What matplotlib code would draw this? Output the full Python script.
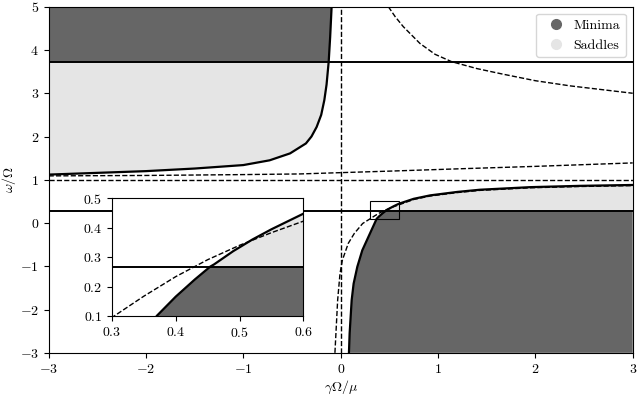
import matplotlib
matplotlib.use('Agg')
import matplotlib.pyplot as plt
import matplotlib.patches as mpatches
from matplotlib.lines import Line2D
import numpy as np

plt.rcParams['font.family'] = 'serif'
plt.rcParams['font.serif'] = ['cmr10']
plt.rcParams['mathtext.fontset'] = 'cm'
plt.rcParams['axes.formatter.use_mathtext'] = True
plt.rcParams['font.size'] = 10

# values
w_hi = 3.732   # 2 + sqrt(3)
w_lo = 0.268   # 2 - sqrt(3)

# left solid boundary (x, omega)
left_x = [-3.0, -2.5, -2.0, -1.5, -1.0, -0.73, -0.52, -0.357, -0.30, -0.247, -0.20, -0.168, -0.145, -0.123, -0.108, -0.093]
left_y = [1.12, 1.16, 1.20, 1.26, 1.34, 1.45, 1.61, 1.84, 2.00, 2.22, 2.50, 2.84, 3.20, 3.732, 4.30, 5.0]

# right solid boundary (x, omega)
right_x = [0.085, 0.092, 0.113, 0.133, 0.171, 0.222, 0.301, 0.37, 0.40, 0.43, 0.454, 0.46, 0.49, 0.52, 0.55, 0.60,
           0.75, 0.92, 1.2, 1.43, 1.95, 2.46, 3.0]
right_y = [-3.0, -2.55, -1.78, -1.40, -1.01, -0.63, -0.24, 0.10, 0.166, 0.2245, 0.268, 0.2755, 0.3205, 0.360, 0.395, 0.448,
           0.56, 0.64, 0.72, 0.77, 0.83, 0.86, 0.88]

# dashed curves
dlow_x = [-0.059, -0.031, -0.007, 0.017, 0.078, 0.14, 0.226, 0.30, 0.35, 0.40, 0.45, 0.50, 0.55, 0.60,
          0.75, 0.92, 1.2, 1.43, 1.95, 2.46, 3.0]
dlow_y = [-3.0, -1.78, -1.17, -0.86, -0.47, -0.24, -0.01, 0.095, 0.1675, 0.234, 0.2915, 0.3405, 0.3835, 0.4225,
          0.545, 0.625, 0.705, 0.755, 0.815, 0.845, 0.865]

dtop_x = [0.49, 0.56, 0.643, 0.815, 0.97, 1.14, 1.4, 1.67, 2.0, 2.36, 3.0]
dtop_y = [5.0, 4.77, 4.54, 4.15, 3.90, 3.73, 3.57, 3.44, 3.29, 3.17, 3.0]

dmid_x = [-3.0, -2.0, -1.0, -0.42, 0.0, 0.5, 1.3, 2.0, 3.0]
dmid_y = [1.09, 1.10, 1.12, 1.135, 1.165, 1.20, 1.26, 1.31, 1.39]

dark = '#666666'
light = '#e5e5e5'


def draw(ax):
    lx, ly = np.array(left_x), np.array(left_y)
    rx, ry = np.array(right_x), np.array(right_y)

    # left side regions
    m = ly <= w_hi
    ax.fill(np.r_[-3, lx[m]], np.r_[w_hi, ly[m]], color=light, lw=0, zorder=1)
    m = ly >= w_hi
    ax.fill(np.r_[-3, -3, lx[m]], np.r_[5, w_hi, ly[m]], color=dark, lw=0, zorder=1)

    # right side regions
    m = ry <= w_lo
    ax.fill(np.r_[rx[m], 3, 3], np.r_[ry[m], w_lo, -3], color=dark, lw=0, zorder=1)
    m = ry >= w_lo
    ax.fill(np.r_[rx[m], 3], np.r_[ry[m], w_lo], color=light, lw=0, zorder=1)

    ax.plot(lx, ly, 'k-', lw=1.6, zorder=3)
    ax.plot(rx, ry, 'k-', lw=1.6, zorder=3)
    ax.axhline(w_hi, color='k', lw=1.4, zorder=3)
    ax.axhline(w_lo, color='k', lw=1.4, zorder=3)

    ax.plot(dlow_x, dlow_y, 'k--', lw=1.0, zorder=2)
    ax.plot(dtop_x, dtop_y, 'k--', lw=1.0, zorder=2)
    ax.plot(dmid_x, dmid_y, 'k--', lw=1.0, zorder=2)
    ax.axhline(1.0, color='k', ls='--', lw=1.0, zorder=2)
    ax.axvline(0.0, color='k', ls='--', lw=1.0, zorder=2)


fig = plt.figure(figsize=(6.4, 3.96), dpi=100)
ax = fig.add_axes([0.076, 0.109, 0.9126, 0.874])
draw(ax)
ax.set_xlim(-3, 3)
ax.set_ylim(-3, 5)
ax.set_xticks([-3, -2, -1, 0, 1, 2, 3])
ax.set_yticks([-3, -2, -1, 0, 1, 2, 3, 4, 5])
ax.set_xlabel(r'$\gamma\Omega/\mu$')
ax.set_ylabel(r'$\omega/\Omega$')
ax.xaxis.set_label_coords(0.5, -0.075)
ax.yaxis.set_label_coords(-0.052, 0.5)

ax.add_patch(mpatches.Rectangle((0.3, 0.1), 0.3, 0.4, fill=False, ec='k', lw=0.8, zorder=4))

handles = [Line2D([], [], ls='', marker='o', ms=7, color=dark, label='Minima'),
           Line2D([], [], ls='', marker='o', ms=7, color=light, label='Saddles')]
ax.legend(handles=handles, loc='upper right', fontsize=10, handletextpad=0.3)

axin = fig.add_axes([0.175, 0.202, 0.299, 0.297])
draw(axin)
axin.set_xlim(0.3, 0.6)
axin.set_ylim(0.1, 0.5)
axin.set_xticks([0.3, 0.4, 0.5, 0.6])
axin.set_yticks([0.1, 0.2, 0.3, 0.4, 0.5])

fig.savefig('out.png', dpi=100)
